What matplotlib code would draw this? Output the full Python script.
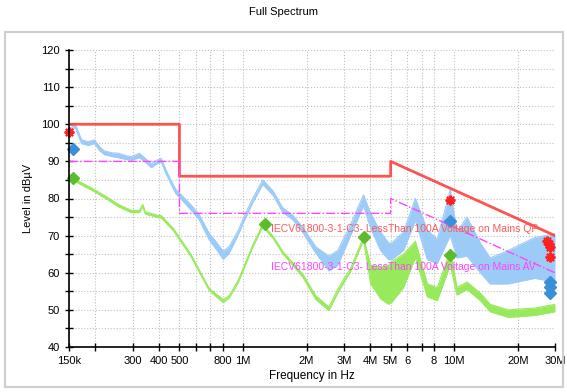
import numpy as np
import matplotlib
matplotlib.use("Agg")
import matplotlib.pyplot as plt
from matplotlib.patches import Rectangle
from matplotlib.ticker import FixedLocator, FixedFormatter, MultipleLocator, NullLocator

plt.rcParams['font.family'] = ['Liberation Sans', 'DejaVu Sans']

# ============ Limit lines ============
qp_lim_f = [150e3, 500e3, 500e3, 5e6, 5e6, 30e6]
qp_lim_v = [100, 100, 86, 86, 90, 70]
av_lim_f = [150e3, 500e3, 500e3, 5e6, 5e6, 30e6]
av_lim_v = [90, 90, 76, 76, 80, 60]

qp_f = [150e3, 160e3, 172e3, 185e3, 198e3, 210e3, 221e3, 240e3, 257e3, 280e3, 296e3,
        323e3, 345e3, 368e3, 390e3, 410e3, 435e3, 457e3, 480e3, 510e3, 569e3, 620e3,
        692e3, 750e3, 805e3, 859e3, 950e3, 1e6, 1.11e6, 1.24e6, 1.39e6, 1.54e6, 1.72e6,
        1.92e6, 2.21e6, 2.55e6, 2.81e6, 3.23e6, 3.72e6, 4.02e6, 4.48e6, 4.89e6, 5.05e6,
        5.75e6, 6.55e6, 7.46e6, 8.31e6, 9.58e6, 10.3e6, 11.5e6, 13.3e6, 14.8e6, 18e6,
        24.1e6, 30e6]
qp_lo = [97.2, 99.3, 94.8, 94.3, 94.8, 92.8, 91.8, 91.3, 91, 90.5, 90.3,
         91, 89.8, 88.3, 89.3, 89.8, 86.3, 83.8, 81.3, 79.8, 76.8, 74.3,
         68.8, 66.2, 63.6, 65.2, 70.3, 73.3, 78.8, 83.8, 80.8, 76.3, 74.3,
         70.8, 65.3, 60.5, 62, 70, 78, 72, 66, 63.5, 63.5,
         66, 74, 63.5, 62.5, 70, 64, 64.5, 60, 57, 57,
         58.5, 57.5]
qp_hi = [98.2, 100.3, 95.8, 95.3, 95.8, 93.8, 92.8, 92.3, 92.2, 91.5, 91.3,
         92.2, 90.8, 89.3, 90.3, 90.8, 87.3, 84.8, 82.5, 81, 78.2, 75.7,
         70.6, 68.2, 65.8, 67, 71.5, 74.5, 80, 85, 82, 77.5, 75.5,
         72.2, 67, 64.5, 66, 73, 81, 76, 71, 68, 68,
         71, 80, 71.5, 69, 82.5, 71, 75, 68, 64, 66,
         69.5, 70.5]

av_f = [150e3, 165e3, 198e3, 221e3, 257e3, 296e3, 323e3, 335e3, 345e3, 400e3, 410e3,
        470e3, 569e3, 620e3, 692e3, 805e3, 859e3, 950e3, 1.11e6, 1.24e6, 1.39e6,
        1.54e6, 1.92e6, 2.21e6, 2.55e6, 2.81e6, 3.23e6, 3.72e6, 4.02e6, 4.48e6, 4.89e6,
        5.05e6, 5.75e6, 6.55e6, 7.46e6, 8.31e6, 9.58e6, 10.3e6, 11.5e6, 13.3e6, 14.8e6,
        18e6, 24.1e6, 30e6]
av_lo = [85.2, 84.2, 81.8, 80.2, 77.8, 76.2, 76.2, 77.8, 75.8, 74.8, 74.8,
         71.2, 64.2, 60.2, 55.2, 52, 53.2, 57.4, 66.8, 72.4, 69.2,
         65.2, 58.8, 52.8, 49.8, 54.6, 60.3, 68.8, 57, 53, 51.5,
         52, 56, 64, 53.5, 52.5, 62, 54, 55.5, 52.5, 49.5,
         48, 48.5, 49.5]
av_hi = [85.8, 84.8, 82.4, 80.8, 78.4, 76.8, 76.8, 78.4, 76.4, 75.4, 75.4,
         71.8, 64.8, 60.8, 55.8, 52.8, 53.8, 58, 67.4, 73, 69.8,
         65.8, 59.6, 53.8, 50.8, 55.6, 61.2, 69.6, 62, 61.5, 62,
         63, 65, 68.5, 57, 56, 66, 56, 57.5, 54.5, 51.5,
         50, 50.5, 51.5]

# ============ Final measurement markers ============
qp_star_f = [150e3, 9.58e6, 27.5e6, 28e6, 28.5e6, 28.5e6]
qp_star_v = [98, 79.7, 68.5, 67.7, 67, 64.3]
qp_dia_f = [156e3, 9.6e6, 28.5e6, 28.5e6, 28.5e6]
qp_dia_v = [93.2, 74, 57.5, 56.2, 54.5]
av_dia_f = [156e3, 1.27e6, 3.72e6, 9.6e6]
av_dia_v = [85.5, 73, 69.5, 64.8]

xtick_pos = [150e3, 200e3, 300e3, 400e3, 500e3, 600e3, 700e3, 800e3, 1e6, 2e6, 3e6,
             4e6, 5e6, 6e6, 7e6, 8e6, 10e6, 20e6, 30e6]
xtick_lab = ['150k', '', '300', '400', '500', '', '', '800', '1M', '2M', '3M',
             '4M', '5M', '6', '', '8', '10M', '20M', '30M']

qp_text = "IECV61800-3-1-C3- LessThan 100A Voltage on Mains QP"
av_text = "IECV61800-3-1-C3- LessThan 100A Voltage on Mains AV"

# ============ Figure ============
fig = plt.figure(figsize=(5.67, 3.92), dpi=100)
fig.patches.append(Rectangle((5 / 567, 5 / 392), 558 / 567, 355 / 392, transform=fig.transFigure,
                             fill=False, edgecolor='#cfcfcf', linewidth=1.5))
fig.text(0.5, 1 - 12 / 392, "Full Spectrum", ha='center', va='center', fontsize=8)

ax = fig.add_axes([69 / 567, 45 / 392, 486 / 567, 297 / 392])
ax.set_xscale('log')
ax.set_xlim(150e3, 30e6)
ax.set_ylim(40, 120)

# traces
ax.fill_between(qp_f, qp_lo, qp_hi, color='#9ccbf8', linewidth=0)
ax.plot(qp_f, qp_lo, color='#9ccbf8', lw=0.8)
ax.plot(qp_f, qp_hi, color='#9ccbf8', lw=0.8)
ax.fill_between(av_f, av_lo, av_hi, color='#98ea5c', linewidth=0)
ax.plot(av_f, av_lo, color='#98ea5c', lw=0.8)
ax.plot(av_f, av_hi, color='#98ea5c', lw=0.8)

# limits
ax.plot(qp_lim_f, qp_lim_v, color='#ff4040', lw=2, alpha=0.9)
ax.plot(av_lim_f, av_lim_v, color='#ff44ff', lw=1, ls='-.')

# markers
ax.plot(qp_dia_f, qp_dia_v, ls='none', marker='D', ms=6, color='#3b8fd9', clip_on=False)
ax.plot(av_dia_f, av_dia_v, ls='none', marker='D', ms=6, color='#5cbd2c', clip_on=False)
ax.plot(qp_star_f, qp_star_v, ls='none', marker=(8, 2, 0), ms=7, mew=1.5, color='#ff2020', clip_on=False)

ax.text(1.355e6, 71.8, qp_text, color='#ff5a5a', fontsize=7.5, va='center', ha='left')
ax.text(1.355e6, 61.5, av_text, color='#ff44ff', fontsize=7.5, va='center', ha='left')

# axes styling
for s in ['top', 'right']:
    ax.spines[s].set_visible(False)
for s in ['left', 'bottom']:
    ax.spines[s].set_linewidth(1.2)

ax.xaxis.set_major_locator(FixedLocator(xtick_pos))
ax.xaxis.set_major_formatter(FixedFormatter(xtick_lab))
ax.xaxis.set_minor_locator(NullLocator())
ax.yaxis.set_major_locator(MultipleLocator(10))
ax.yaxis.set_minor_locator(MultipleLocator(5))
ax.tick_params(which='both', direction='inout', length=6, width=1, labelsize=8)
ax.grid(True, which='both', color='#c0c0c0', ls=':', lw=0.8)
ax.set_axisbelow(True)

ax.set_xlabel("Frequency in Hz", fontsize=8.5, labelpad=3)
ax.set_ylabel("Level in dBµV", fontsize=8, labelpad=6)

fig.savefig("out.png", dpi=100)
